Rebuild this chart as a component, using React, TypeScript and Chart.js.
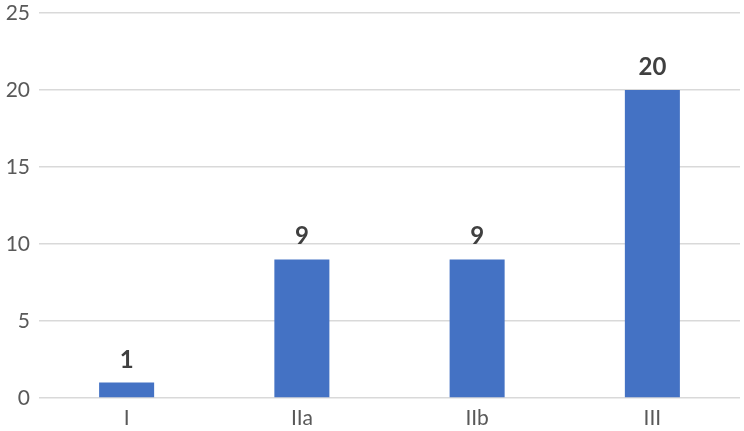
import React, { useEffect, useRef } from "react";
import { Chart, registerables } from "chart.js";

Chart.register(...registerables);

const categories = ["I", "IIa", "IIb", "III"];
const values = [1, 9, 9, 20];
const yTicks = [0, 5, 10, 15, 20, 25];

const FONT = "Lato, 'Open Sans', sans-serif";

const dataLabelPlugin = {
  id: "dataLabels",
  afterDatasetsDraw(chart: any) {
    const ctx = chart.ctx;
    const meta = chart.getDatasetMeta(0);
    ctx.save();
    ctx.font = `bold 24px ${FONT}`;
    ctx.fillStyle = "#404040";
    ctx.textAlign = "center";
    ctx.textBaseline = "alphabetic";
    meta.data.forEach((bar: any, i: number) => {
      ctx.fillText(String(values[i]), bar.x, bar.y - 15);
    });
    ctx.restore();
  },
};

export default function App() {
  const ref = useRef<HTMLCanvasElement>(null);
  useEffect(() => {
    if (!ref.current) return;
    const chart = new Chart(ref.current, {
      type: "bar",
      data: {
        labels: categories,
        datasets: [
          {
            data: values,
            backgroundColor: "#4472C4",
            categoryPercentage: 1,
            barPercentage: 0.314,
          },
        ],
      },
      options: {
        responsive: false,
        animation: false,
        layout: { padding: { top: 13, right: 4, left: 0, bottom: 0 } },
        plugins: { legend: { display: false }, tooltip: { enabled: false } },
        scales: {
          x: {
            grid: { display: false, drawTicks: false },
            border: { display: false },
            ticks: { color: "#595959", font: { family: FONT, size: 21 }, padding: 8 },
            afterFit(scale: any) {
              scale.height = 33;
            },
          },
          y: {
            min: 0,
            max: 25,
            afterBuildTicks(scale: any) {
              scale.ticks = yTicks.map((v) => ({ value: v }));
            },
            grid: { color: "#d9d9d9", lineWidth: 1.5, drawTicks: false },
            border: { display: false },
            ticks: { color: "#595959", font: { family: FONT, size: 21 }, padding: 9 },
            afterFit(scale: any) {
              scale.width = 39;
              scale.paddingTop = 0;
              scale.paddingBottom = 0;
            },
          },
        },
      },
      plugins: [dataLabelPlugin],
    });
    return () => chart.destroy();
  }, []);
  return (
    <div style={{ position: "absolute", left: 0, top: 0, width: 744, height: 431, background: "#fff" }}>
      <canvas ref={ref} width={744} height={431} style={{ width: 744, height: 431 }} />
    </div>
  );
}
